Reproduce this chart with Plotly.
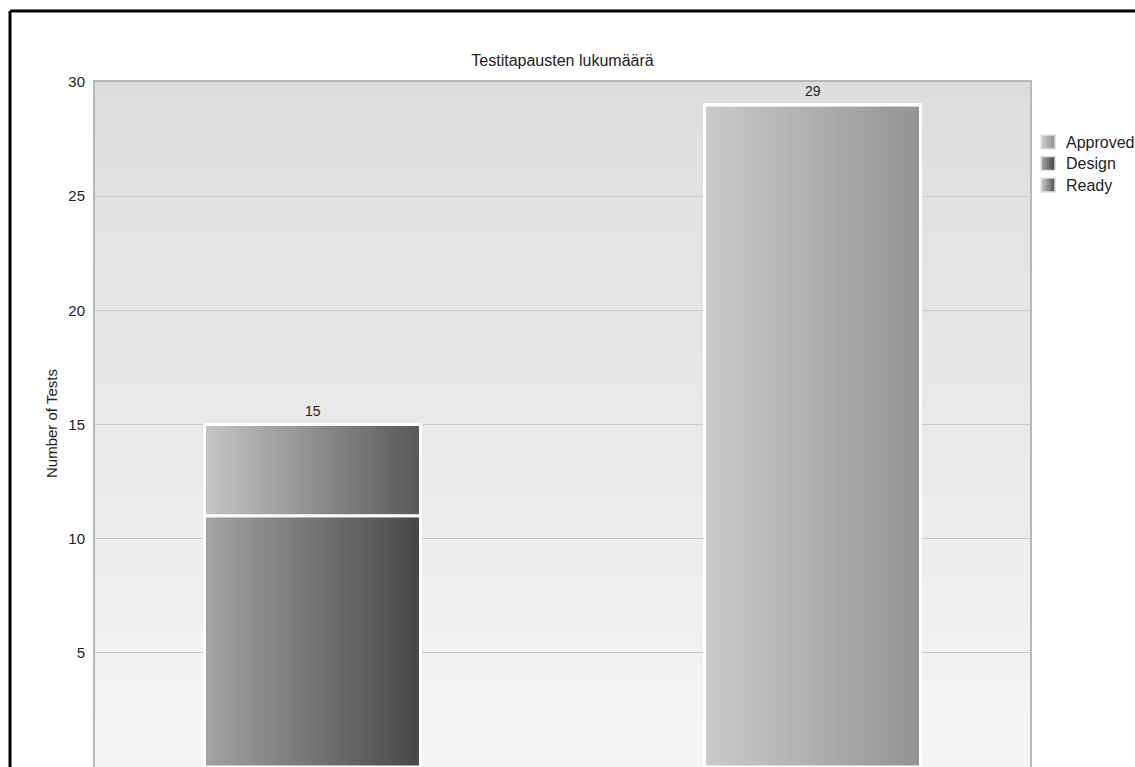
import plotly.graph_objects as go

# ---- data ----
categories = ["Set A", "Set B"]
series_names = ["Approved", "Design", "Ready"]
approved = [0, 29]
design = [11, 0]
ready = [4, 0]
y_ticks = [5, 10, 15, 20, 25, 30]

# ---- styles ----
grad = {
    "Approved": ((0xCA, 0xCA, 0xCA), (0x94, 0x94, 0x94)),
    "Design": ((0xA2, 0xA2, 0xA2), (0x48, 0x48, 0x48)),
    "Ready": ((0xC4, 0xC4, 0xC4), (0x5A, 0x5A, 0x5A)),
}
BAR_W = 0.432
N = 36
FONT = "Liberation Sans, Arial, sans-serif"

# plot area in pixels (for converting legend/frame positions to paper coords)
PL, PR, PT, PB = 95, 1030, 82, 767


def px_x(px):
    return (px - PL) / (PR - PL)


def px_y(py):
    return 1 - (py - PT) / (PB - PT)


def mix(a, b, t):
    return "rgb(%d,%d,%d)" % tuple(round(a[i] + (b[i] - a[i]) * t) for i in range(3))


fig = go.Figure()
values = {"Approved": approved, "Design": design, "Ready": ready}
base = [0] * len(categories)
for name in series_names:
    vals = values[name]
    c0, c1 = grad[name]
    for i in range(N):
        off = -BAR_W / 2 + i * BAR_W / N
        fig.add_trace(go.Bar(
            x=categories, y=vals, base=base,
            offset=off, width=BAR_W - i * BAR_W / N,
            marker=dict(color=mix(c0, c1, i / (N - 1)), line=dict(width=0)),
            showlegend=False, hoverinfo="skip",
        ))
    fig.add_trace(go.Bar(
        x=categories, y=vals, base=base, width=BAR_W,
        marker=dict(color="rgba(0,0,0,0)", line=dict(color="white", width=3)),
        showlegend=False, name=name,
    ))
    base = [b + v for b, v in zip(base, vals)]

totals = base
annotations = []
for c, t in zip(categories, totals):
    annotations.append(dict(x=c, y=t, text=str(t), showarrow=False, yshift=14,
                            yanchor="middle", font=dict(size=14, color="#222")))

annotations.append(dict(text="Number of Tests", textangle=-90, xref="paper", yref="paper",
                        x=px_x(52), y=px_y(424), xanchor="center", yanchor="middle",
                        showarrow=False, font=dict(size=15, color="#222")))

# background gradient bands in plot area
shapes = []
BANDS = 40
top_c, bot_c = (0xDD, 0xDD, 0xDD), (0xF5, 0xF5, 0xF5)
for i in range(BANDS):
    y0 = 1 - (i + 1) / BANDS
    y1 = 1 - i / BANDS
    shapes.append(dict(type="rect", xref="paper", yref="paper", x0=0, x1=1,
                       y0=y0, y1=y1 + 0.002, fillcolor=mix(top_c, bot_c, i / (BANDS - 1)),
                       line=dict(width=0), layer="below"))

# manual legend (swatch + text)
legend_rows = [142, 163.5, 185]
SW = 14
for name, cy in zip(series_names, legend_rows):
    c0, c1 = grad[name]
    x0, x1 = 1041, 1041 + SW
    strips = 7
    for k in range(strips):
        sx0 = x0 + (x1 - x0) * k / strips
        sx1 = x0 + (x1 - x0) * (k + 1) / strips + 0.3
        shapes.append(dict(type="rect", xref="paper", yref="paper",
                           x0=px_x(sx0), x1=px_x(sx1),
                           y0=px_y(cy + SW / 2), y1=px_y(cy - SW / 2),
                           fillcolor=mix(c0, c1, k / (strips - 1)), line=dict(width=0)))
    shapes.append(dict(type="rect", xref="paper", yref="paper",
                       x0=px_x(x0), x1=px_x(x1), y0=px_y(cy + SW / 2), y1=px_y(cy - SW / 2),
                       fillcolor="rgba(0,0,0,0)", line=dict(color="#e2e2e2", width=1.5)))
    annotations.append(dict(text=name, xref="paper", yref="paper", x=px_x(1064), y=px_y(cy),
                            xanchor="left", yanchor="middle", showarrow=False,
                            font=dict(size=16, color="#222")))

# outer black frame (left and top edges visible)
shapes.append(dict(type="line", xref="paper", yref="paper", x0=px_x(10), x1=px_x(10),
                   y0=-0.1, y1=px_y(11), line=dict(color="black", width=3)))
shapes.append(dict(type="line", xref="paper", yref="paper", x0=px_x(10), x1=1.2,
                   y0=px_y(11), y1=px_y(11), line=dict(color="black", width=3)))

fig.update_layout(
    width=1135, height=767,
    margin=dict(l=95, r=105, t=82, b=0),
    paper_bgcolor="white", plot_bgcolor="#eeeeee",
    barmode="overlay",
    font=dict(family=FONT, color="#222", size=14),
    title=dict(text="Testitapausten lukumäärä", x=0.5, xref="paper",
               y=1 - 60 / 767, yref="container", yanchor="middle",
               font=dict(size=16, color="#222")),
    shapes=shapes,
    showlegend=False,
    annotations=annotations,
)
fig.update_xaxes(range=[-0.435, 1.435], showticklabels=False, showgrid=False,
                 showline=True, mirror=True, linecolor="#b8b8b8", linewidth=2,
                 zeroline=False, ticks="")
fig.update_yaxes(range=[0, 30], tickvals=y_ticks, showgrid=True, gridcolor="#c8c8c8",
                 gridwidth=1.2, showline=True, mirror=True, linecolor="#b8b8b8", linewidth=2,
                 zeroline=False, ticks="", ticklabelstandoff=5,
                 tickfont=dict(size=15, color="#222"))

fig.write_html("out.html")
